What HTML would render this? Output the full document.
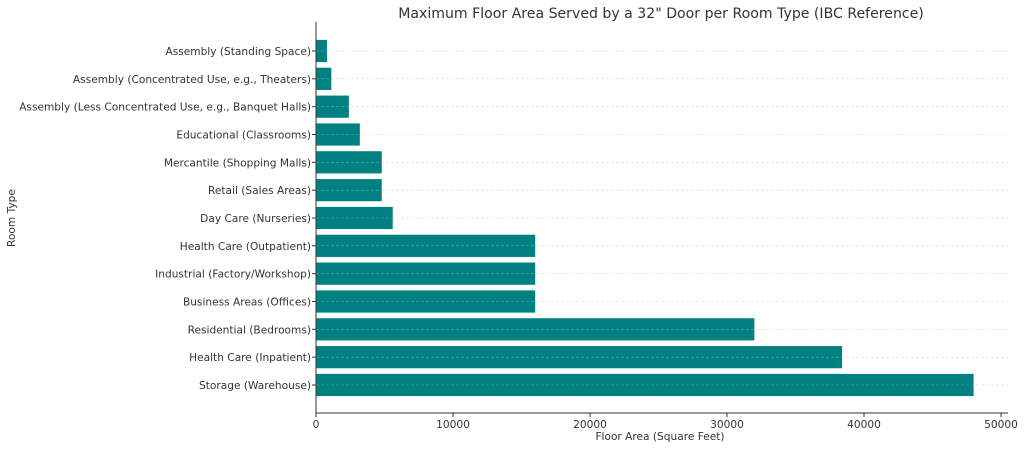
<!DOCTYPE html><html><head><style>body{margin:0;background:#fff}</style></head><body>
<svg width="1024" height="448" xmlns="http://www.w3.org/2000/svg" font-family="DejaVu Sans, Liberation Sans, sans-serif">
<rect width="1024" height="448" fill="#fff"/>
<text x="661" y="18" font-size="14.1" text-anchor="middle" fill="#333">Maximum Floor Area Served by a 32" Door per Room Type (IBC Reference)</text>
<g id="bars" fill="#008080">
</g>
<script>
var d=[["Assembly (Standing Space)",800],["Assembly (Concentrated Use, e.g., Theaters)",1120],["Assembly (Less Concentrated Use, e.g., Banquet Halls)",2400],["Educational (Classrooms)",3200],["Mercantile (Shopping Malls)",4800],["Retail (Sales Areas)",4800],["Day Care (Nurseries)",5600],["Health Care (Outpatient)",16000],["Industrial (Factory/Workshop)",16000],["Business Areas (Offices)",16000],["Residential (Bedrooms)",32000],["Health Care (Inpatient)",38400],["Storage (Warehouse)",48000]];
var ns="http://www.w3.org/2000/svg",svg=document.querySelector("svg"),g=document.getElementById("bars");
function el(t,a,p){var e=document.createElementNS(ns,t);for(var k in a)e.setAttribute(k,a[k]);(p||svg).appendChild(e);return e;}
var sp=(385-51)/12,S=0.0137;
d.forEach(function(r,i){var c=51+i*sp;
el("rect",{x:316,y:c-11.1,width:r[1]*S,height:22.2},g);
el("line",{x1:316,x2:1008,y1:c,y2:c,stroke:"#bbb","stroke-width":0.6,"stroke-dasharray":"3,2","stroke-opacity":0.6});
el("line",{x1:312,x2:316,y1:c,y2:c,stroke:"#333"});
var t=el("text",{x:311,y:c+4,"font-size":"10.6","text-anchor":"end",fill:"#333"});t.textContent=r[0];});
for(var v=0;v<=50000;v+=10000){var x=316+v*S;el("line",{x1:x,x2:x,y1:413,y2:417,stroke:"#333"});
var t=el("text",{x:x,y:428,"font-size":"10.6","text-anchor":"middle",fill:"#333"});t.textContent=v;}
el("line",{x1:316,x2:316,y1:22,y2:413,stroke:"#333"});
el("line",{x1:316,x2:1008,y1:413,y2:413,stroke:"#333"});
</script>
<text x="660" y="440" font-size="10.6" text-anchor="middle" fill="#333">Floor Area (Square Feet)</text>
<text transform="translate(15,218) rotate(-90)" font-size="10.6" text-anchor="middle" fill="#333">Room Type</text>
</svg></body></html>
